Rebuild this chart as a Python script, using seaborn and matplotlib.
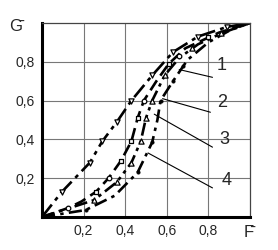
import matplotlib
matplotlib.use("Agg")
import matplotlib.pyplot as plt
import seaborn as sns
import pandas as pd

sns.set_theme(style="white")
plt.rcParams['font.family'] = ['Liberation Sans', 'DejaVu Sans']

# curve data (F, G)
c1_x = [0, 0.096, 0.23, 0.29, 0.36, 0.43, 0.53, 0.63, 0.75, 0.89, 1.0]
c1_y = [0, 0.13, 0.28, 0.39, 0.49, 0.60, 0.73, 0.85, 0.93, 0.98, 1.0]
c2_x = [0, 0.125, 0.19, 0.26, 0.32, 0.38, 0.43, 0.46, 0.49, 0.55, 0.61, 0.69, 0.85, 1.0]
c2_y = [0, 0.046, 0.08, 0.13, 0.20, 0.29, 0.39, 0.51, 0.60, 0.70, 0.79, 0.87, 0.95, 1.0]
c3_x = [0, 0.25, 0.36, 0.43, 0.475, 0.50, 0.53, 0.59, 0.66, 0.75, 0.87, 1.0]
c3_y = [0, 0.087, 0.18, 0.28, 0.39, 0.51, 0.60, 0.73, 0.82, 0.89, 0.95, 1.0]
c4_x = [0, 0.21, 0.35, 0.46, 0.53, 0.555, 0.57, 0.63, 0.70, 0.80, 0.90, 1.0]
c4_y = [0, 0.036, 0.11, 0.23, 0.385, 0.50, 0.60, 0.70, 0.81, 0.90, 0.96, 1.0]

# markers
m1_x = [0.096, 0.23, 0.29, 0.36, 0.43, 0.53, 0.63, 0.75, 0.89]
m1_y = [0.13, 0.28, 0.39, 0.49, 0.60, 0.73, 0.85, 0.93, 0.98]
m2c_x = [0.125, 0.32, 0.49, 0.66]
m2c_y = [0.046, 0.20, 0.60, 0.83]
m2s_x = [0.26, 0.38, 0.43, 0.46, 0.61, 0.80]
m2s_y = [0.13, 0.29, 0.39, 0.51, 0.79, 0.93]
m3_x = [0.25, 0.36, 0.43, 0.475, 0.50, 0.53, 0.59, 0.72, 0.86]
m3_y = [0.087, 0.18, 0.28, 0.39, 0.51, 0.60, 0.73, 0.87, 0.95]
m4_x = [0.21, 0.46, 0.53, 0.57, 0.63, 0.68]
m4_y = [0.036, 0.23, 0.385, 0.60, 0.70, 0.78]

ticks = [0.2, 0.4, 0.6, 0.8]
tick_labels = ["0,2", "0,4", "0,6", "0,8"]
curve_labels = ["1", "2", "3", "4"]
label_pos = [(0.84, 0.78), (0.84, 0.59), (0.855, 0.40), (0.865, 0.19)]
leader_start = [(0.66, 0.76), (0.58, 0.61), (0.54, 0.53), (0.51, 0.33)]
leader_end = [(0.82, 0.72), (0.81, 0.54), (0.82, 0.36), (0.82, 0.15)]

fig = plt.figure(figsize=(2.78, 2.50), dpi=100)
ax = fig.add_axes([0.151, 0.132, 0.748, 0.776])

for t in ticks:
    ax.axvline(t, color="#777777", lw=0.8, zorder=0)
    ax.axhline(t, color="#777777", lw=0.8, zorder=0)

styles = [(0, (6, 2, 1.5, 2)), (0, (4.5, 2.2)), (0, (5, 1.8, 1.3, 1.8, 1.3, 1.8)), (0, (5, 2, 1.3, 2))]
for (xs, ys), ls in zip([(c1_x, c1_y), (c2_x, c2_y), (c3_x, c3_y), (c4_x, c4_y)], styles):
    df = pd.DataFrame({"F": xs, "G": ys})
    sns.lineplot(data=df, x="F", y="G", sort=False, estimator=None, ax=ax,
                 color="black", lw=1.9, linestyle=ls)

mk = dict(facecolor="white", edgecolor="black", linewidth=0.9, zorder=5, ax=ax)
sns.scatterplot(x=m1_x, y=m1_y, marker="v", s=14, **mk)
sns.scatterplot(x=m2c_x, y=m2c_y, marker="o", s=11, **mk)
sns.scatterplot(x=m2s_x, y=m2s_y, marker="s", s=10, **mk)
sns.scatterplot(x=m3_x, y=m3_y, marker="^", s=14, **mk)
sns.scatterplot(x=m4_x, y=m4_y, marker="o", s=7, color="black", edgecolor="black", zorder=5, ax=ax)

for lab, p, s, e in zip(curve_labels, label_pos, leader_start, leader_end):
    ax.plot([s[0], e[0]], [s[1], e[1]], color="black", lw=0.8)
    ax.text(p[0], p[1], lab, fontsize=13, ha="left", va="center")

ax.set_xlim(0, 1)
ax.set_ylim(0, 1)
ax.set_xticks(ticks)
ax.set_xticklabels(tick_labels)
ax.set_yticks(ticks)
ax.set_yticklabels(tick_labels)
ax.tick_params(length=0, labelsize=10, pad=5)
ax.set_xlabel("")
ax.set_ylabel("")
for side in ["left", "bottom"]:
    ax.spines[side].set_linewidth(2.2)
    ax.spines[side].set_color("black")
for side in ["top", "right"]:
    ax.spines[side].set_linewidth(0.9)
    ax.spines[side].set_color("#444444")

fig.text(0.055, 0.895, "G\u0304", fontsize=12, ha="center", va="center")
fig.text(0.895, 0.07, "F\u0304", fontsize=12, ha="center", va="center")

fig.savefig("out.png", dpi=100)
